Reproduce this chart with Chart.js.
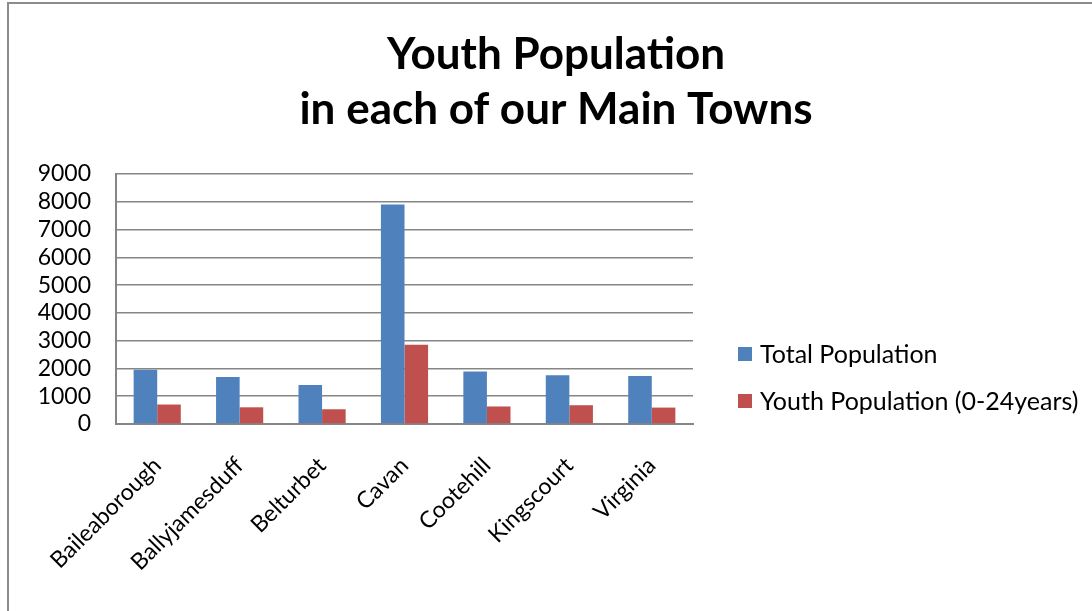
<!DOCTYPE html>
<html>
<head>
<meta charset="utf-8">
<script src="https://cdn.jsdelivr.net/npm/chart.js@4/dist/chart.umd.min.js"></script>
<style>
  html, body { margin: 0; padding: 0; background: #fff; overflow: hidden; }
  #wrap { position: relative; width: 1092px; height: 611px; }
  #frame {
    position: absolute; left: 7px; top: 2px; right: -10px; bottom: -10px;
    border-left: 2px solid #8c8c8c; border-top: 2px solid #8c8c8c;
  }
  #chart { position: absolute; left: 0; top: 0; }
</style>
</head>
<body>
<div id="wrap">
  <div id="frame"></div>
  <canvas id="chart" width="1092" height="611"></canvas>
</div>
<script>
"use strict";

var titleLines = ["Youth Population", "in each of our Main Towns"];
var towns = ["Baileaborough", "Ballyjamesduff", "Belturbet", "Cavan", "Cootehill", "Kingscourt", "Virginia"];
var totalPopulation = [1950, 1690, 1400, 7900, 1890, 1750, 1725];
var youthPopulation = [700, 600, 530, 2850, 630, 675, 590];
var seriesNames = ["Total Population", "Youth Population (0-24years)"];
var yTicks = [0, 1000, 2000, 3000, 4000, 5000, 6000, 7000, 8000, 9000];

var fontFamily = "Lato, 'Open Sans', sans-serif";
var gridGrey = "#868686";

// Excel-style legend off to the right of the plot
var sideLegend = {
  id: "sideLegend",
  afterDraw: function(chart, args, opts) {
    var ctx = chart.ctx;
    var left = chart.chartArea.right + opts.gap;
    ctx.save();
    ctx.font = opts.size + "px " + fontFamily;
    ctx.textBaseline = "middle";
    ctx.textAlign = "left";
    chart.data.datasets.forEach(function(ds, i) {
      var y = opts.top + i * opts.spacing;
      ctx.fillStyle = ds.backgroundColor;
      ctx.fillRect(left, y - opts.box / 2, opts.box, opts.box);
      ctx.fillStyle = "#000";
      ctx.fillText(ds.label, left + opts.box + 8, y + 1);
    });
    ctx.restore();
  }
};

new Chart(document.getElementById("chart"), {
  type: "bar",
  plugins: [sideLegend],
  data: {
    labels: towns,
    datasets: [{
      label: seriesNames[0],
      data: totalPopulation,
      backgroundColor: "#4F81BD",
      categoryPercentage: 0.572,
      barPercentage: 1.0
    }, {
      label: seriesNames[1],
      data: youthPopulation,
      backgroundColor: "#C0504D",
      categoryPercentage: 0.572,
      barPercentage: 1.0
    }]
  },
  options: {
    responsive: false,
    animation: false,
    layout: {
      padding: { left: 30, right: 10, top: 0, bottom: 15 }
    },
    plugins: {
      legend: { display: false },
      tooltip: { enabled: false },
      title: {
        display: true,
        text: titleLines,
        color: "#000",
        font: { family: fontFamily, size: 44, weight: "bold", lineHeight: 1.25 },
        padding: { top: 27, bottom: 37 }
      },
      sideLegend: { gap: 45, top: 354, spacing: 47, box: 14, size: 25 }
    },
    scales: {
      x: {
        grid: { display: false },
        border: { color: gridGrey, width: 2 },
        ticks: {
          color: "#000",
          font: { family: fontFamily, size: 23 },
          minRotation: 45,
          maxRotation: 45,
          autoSkip: false,
          padding: 20
        }
      },
      y: {
        min: 0,
        max: 9000,
        afterBuildTicks: function(axis) {
          axis.ticks = yTicks.map(function(v) { return { value: v }; });
        },
        afterFit: function(axis) { axis.width = 86; },
        grid: { color: gridGrey, lineWidth: 1.5, drawTicks: false },
        border: { color: gridGrey, width: 2 },
        ticks: {
          color: "#000",
          font: { family: fontFamily, size: 23 },
          padding: 25,
          autoSkip: false,
          callback: function(value) { return String(value); }
        }
      },
      // empty right-hand axis: keeps room for the legend while the title stays centred
      legendRoom: {
        type: "linear",
        position: "right",
        grid: { display: false },
        border: { display: false },
        ticks: { display: false },
        afterFit: function(axis) { axis.width = 389; }
      }
    }
  }
});
</script>
</body>
</html>
